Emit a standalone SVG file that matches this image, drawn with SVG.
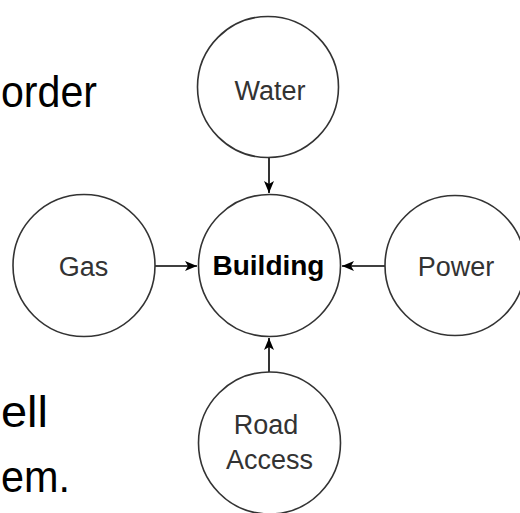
<svg xmlns="http://www.w3.org/2000/svg" width="520" height="513" viewBox="0 0 520 513">
<style>
.node circle{fill:#fff;stroke:#333;stroke-width:1.6}
.lbl{font-family:"Liberation Sans",Arial,sans-serif;font-size:27px;fill:#333;text-anchor:middle}
.bold{font-weight:bold;fill:#000;font-size:28px}
.slide{font-family:"Liberation Sans",Arial,sans-serif;font-size:45px;fill:#000}
.edge{stroke:#000;stroke-width:1.6;fill:none;marker-end:url(#arr)}
</style>
<defs>
<marker id="arr" viewBox="0 0 12 12" refX="12" refY="6" markerWidth="12" markerHeight="12" markerUnits="userSpaceOnUse" orient="auto">
<path d="M0,1 L12,6 L0,11 L3,6 Z" fill="#000"/>
</marker>
</defs>
<rect width="520" height="513" fill="#fff"/>
<g id="slide-text">
<text class="slide" x="1" y="107" textLength="96" lengthAdjust="spacingAndGlyphs">order</text>
<text class="slide" x="1" y="427" textLength="47" lengthAdjust="spacingAndGlyphs">ell</text>
<text class="slide" x="1" y="492" textLength="69" lengthAdjust="spacingAndGlyphs">em.</text>
</g>
<g id="connectors">
<line class="edge" x1="269" y1="158" x2="269" y2="193"/>
<line class="edge" x1="155" y1="266" x2="197" y2="266"/>
<line class="edge" x1="385" y1="266" x2="342" y2="266"/>
<line class="edge" x1="269" y1="372" x2="269" y2="338"/>
</g>
<g id="water" class="node">
<circle cx="268" cy="87" r="70.5"/>
<text class="lbl" x="270" y="100">Water</text>
</g>
<g id="building" class="node">
<circle cx="269.5" cy="265.5" r="71"/>
<text class="lbl bold" x="268.5" y="275">Building</text>
</g>
<g id="gas" class="node">
<circle cx="84" cy="265.5" r="71"/>
<text class="lbl" x="83.5" y="276">Gas</text>
</g>
<g id="power" class="node">
<circle cx="455" cy="265.5" r="70"/>
<text class="lbl" x="456" y="276">Power</text>
</g>
<g id="road-access" class="node">
<circle cx="269.5" cy="443" r="71"/>
<text class="lbl" x="266" y="434">Road</text>
<text class="lbl" x="269.5" y="469">Access</text>
</g>
</svg>
